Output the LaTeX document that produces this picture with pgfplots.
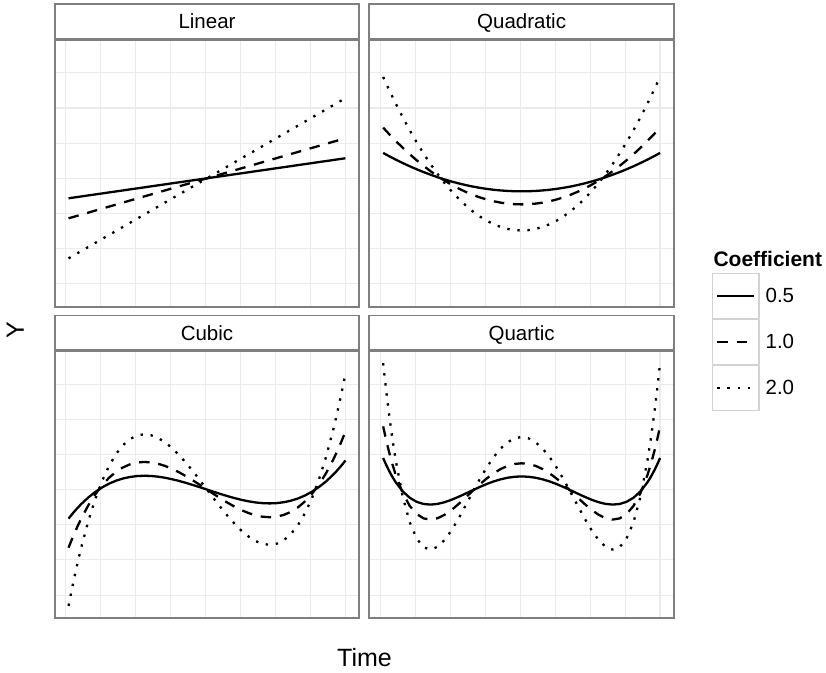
\documentclass[border=0pt]{standalone}
\usepackage{fontspec}
\setmainfont{Liberation Sans}
\usepackage{pgfplots}
\usepackage{pgfplotstable}
\pgfplotsset{compat=1.18}
\definecolor{borderc}{RGB}{127,127,127}
\definecolor{gridc}{RGB}{235,235,235}
\definecolor{keyc}{RGB}{210,210,210}

\pgfplotstableread{
x c05 c10 c20
1 -0.857 -1.715 -3.430
50.5 0 0 0
100 0.857 1.715 3.430
}\linear

\pgfplotstableread{
x c05 c10 c20
1 1.085 2.169 4.339
3 0.955 1.909 3.818
5.5 0.799 1.599 3.198
8 0.653 1.305 2.611
10.5 0.514 1.029 2.057
13 0.384 0.769 1.537
15.5 0.263 0.525 1.051
18 0.150 0.299 0.598
20.5 0.045 0.089 0.179
23 -0.052 -0.103 -0.207
25.5 -0.140 -0.280 -0.559
28 -0.219 -0.439 -0.878
30.5 -0.291 -0.581 -1.163
33 -0.354 -0.707 -1.414
35.5 -0.408 -0.816 -1.632
38 -0.454 -0.908 -1.817
40.5 -0.492 -0.984 -1.968
43 -0.521 -1.043 -2.085
45.5 -0.542 -1.085 -2.169
48 -0.555 -1.110 -2.219
50.5 -0.559 -1.118 -2.236
53 -0.555 -1.110 -2.219
55.5 -0.542 -1.085 -2.169
58 -0.521 -1.043 -2.085
60.5 -0.492 -0.984 -1.968
63 -0.454 -0.908 -1.817
65.5 -0.408 -0.816 -1.632
68 -0.354 -0.707 -1.414
70.5 -0.291 -0.581 -1.163
73 -0.219 -0.439 -0.878
75.5 -0.140 -0.280 -0.559
78 -0.052 -0.103 -0.207
80.5 0.045 0.089 0.179
83 0.150 0.299 0.598
85.5 0.263 0.525 1.051
88 0.384 0.769 1.537
90.5 0.514 1.029 2.057
93 0.653 1.305 2.611
95.5 0.799 1.599 3.198
98 0.955 1.909 3.818
100 1.085 2.169 4.339
}\quadratic

\pgfplotstableread{
x c05 c10 c20
1 -1.245 -2.489 -4.978
2 -1.094 -2.187 -4.374
3 -0.950 -1.901 -3.802
4.25 -0.782 -1.564 -3.128
5.5 -0.625 -1.250 -2.500
8 -0.344 -0.689 -1.377
10.5 -0.106 -0.212 -0.423
13 0.093 0.186 0.372
15.5 0.255 0.509 1.019
18 0.382 0.763 1.526
20.5 0.476 0.952 1.905
23 0.541 1.082 2.165
25.5 0.579 1.158 2.315
28 0.592 1.183 2.366
30.5 0.582 1.164 2.328
33 0.553 1.105 2.211
35.5 0.506 1.012 2.024
38 0.444 0.889 1.778
40.5 0.370 0.741 1.482
43 0.286 0.573 1.146
45.5 0.195 0.390 0.781
48 0.099 0.198 0.395
50.5 0 0 0
53 -0.099 -0.198 -0.395
55.5 -0.195 -0.390 -0.781
58 -0.286 -0.573 -1.146
60.5 -0.370 -0.741 -1.482
63 -0.444 -0.889 -1.778
65.5 -0.506 -1.012 -2.024
68 -0.553 -1.105 -2.211
70.5 -0.582 -1.164 -2.328
73 -0.592 -1.183 -2.366
75.5 -0.579 -1.158 -2.315
78 -0.541 -1.082 -2.165
80.5 -0.476 -0.952 -1.905
83 -0.382 -0.763 -1.526
85.5 -0.255 -0.509 -1.019
88 -0.093 -0.186 -0.372
90.5 0.106 0.212 0.423
93 0.344 0.689 1.377
95.5 0.625 1.250 2.500
96.75 0.782 1.564 3.128
98 0.950 1.901 3.802
99 1.094 2.187 4.374
100 1.245 2.489 4.978
}\cubic

\pgfplotstableread{
x c05 c10 c20
1 1.353 2.707 5.413
2 1.080 2.159 4.319
3 0.831 1.662 3.325
4.25 0.554 1.108 2.216
5.5 0.312 0.624 1.248
8 -0.076 -0.152 -0.304
10.5 -0.350 -0.699 -1.398
13 -0.525 -1.050 -2.101
15.5 -0.618 -1.236 -2.472
18 -0.643 -1.285 -2.570
20.5 -0.612 -1.224 -2.448
23 -0.539 -1.077 -2.154
25.5 -0.434 -0.867 -1.734
28 -0.307 -0.615 -1.230
30.5 -0.170 -0.339 -0.678
33 -0.028 -0.056 -0.112
35.5 0.109 0.219 0.438
38 0.237 0.473 0.946
40.5 0.348 0.696 1.392
43 0.439 0.879 1.757
45.5 0.507 1.014 2.028
48 0.548 1.097 2.194
50.5 0.563 1.125 2.250
53 0.548 1.097 2.194
55.5 0.507 1.014 2.028
58 0.439 0.879 1.757
60.5 0.348 0.696 1.392
63 0.237 0.473 0.946
65.5 0.109 0.219 0.438
68 -0.028 -0.056 -0.112
70.5 -0.170 -0.339 -0.678
73 -0.307 -0.615 -1.230
75.5 -0.434 -0.867 -1.734
78 -0.539 -1.077 -2.154
80.5 -0.612 -1.224 -2.448
83 -0.643 -1.285 -2.570
85.5 -0.618 -1.236 -2.472
88 -0.525 -1.050 -2.101
90.5 -0.350 -0.699 -1.398
93 -0.076 -0.152 -0.304
95.5 0.312 0.624 1.248
96.75 0.554 1.108 2.216
98 0.831 1.662 3.325
99 1.080 2.159 4.319
100 1.353 2.707 5.413
}\quartic

\pgfplotsset{
  panel/.style={
    scale only axis, width=304.6pt, height=267pt,
    xmin=-3.95, xmax=104.95, ymin=-5.498, ymax=5.933,
    xtick={0,25,50,75,100}, minor xtick={12.5,37.5,62.5,87.5},
    ytick={-3.01,0,3.01}, minor ytick={-4.515,-1.505,1.505,4.515},
    xticklabels={}, yticklabels={},
    major tick length=0pt, minor tick length=0pt, tick style={draw=none},
    grid=both,
    major grid style={draw=gridc, line width=1.2pt},
    minor grid style={draw=gridc, line width=0.9pt},
    axis line style={draw=borderc, line width=1.9pt},
    every axis title/.style={at={(0.5,1)}, anchor=south, draw=borderc,
      line width=1.9pt, fill=white, minimum width=304.6pt, minimum height=34.5pt,
      inner sep=0pt, text height=14.7pt, text depth=0pt,
      font=\fontsize{20.5}{24}\selectfont},
  },
  s05/.style={black, line width=2.3pt, solid, line join=round},
  s10/.style={black, line width=2.3pt, dash pattern=on 10.5pt off 8.8pt, line join=round},
  s20/.style={black, line width=2.3pt, dash pattern=on 2.4pt off 7.7pt, line join=round},
}

\begin{document}
\begin{tikzpicture}
\path[use as bounding box] (0pt,0pt) rectangle (826pt,672pt);

\begin{axis}[panel, at={(54.7pt,365.3pt)}, anchor=south west, title={Linear}]
\addplot[s05] table[x=x,y=c05]{\linear};
\addplot[s10] table[x=x,y=c10]{\linear};
\addplot[s20] table[x=x,y=c20]{\linear};
\end{axis}

\begin{axis}[panel, at={(369.3pt,365.3pt)}, anchor=south west, title={Quadratic},
  legend style={at={(axis description cs:1.1241,0.1251)}, anchor=north west,
    draw=none, fill=none, inner sep=0pt, outer sep=0pt, row sep=0pt,
    font=\fontsize{20.5}{24}\selectfont, nodes={inner sep=0pt},
    /tikz/every odd column/.append style={column sep=6pt}},
  legend cell align=left,
  legend image code/.code={
    \draw[solid, draw=keyc, line width=1.2pt] (0pt,-22.4pt) rectangle (46.7pt,22.4pt);
    \draw[#1] (5pt,0pt) -- (41.7pt,0pt);}]
\addplot[s05] table[x=x,y=c05]{\quadratic};
\addlegendentry{0.5}
\addplot[s10] table[x=x,y=c10]{\quadratic};
\addlegendentry{1.0}
\addplot[s20] table[x=x,y=c20]{\quadratic};
\addlegendentry{2.0}
\end{axis}

\begin{axis}[panel, at={(54.7pt,54pt)}, anchor=south west, title={Cubic}]
\addplot[s05] table[x=x,y=c05]{\cubic};
\addplot[s10] table[x=x,y=c10]{\cubic};
\addplot[s20] table[x=x,y=c20]{\cubic};
\end{axis}

\begin{axis}[panel, at={(369.3pt,54pt)}, anchor=south west, title={Quartic}]
\addplot[s05] table[x=x,y=c05]{\quartic};
\addplot[s10] table[x=x,y=c10]{\quartic};
\addplot[s20] table[x=x,y=c20]{\quartic};
\end{axis}

\node[anchor=base west, inner sep=0pt, font=\bfseries\fontsize{21}{25}\selectfont] at (713.3pt,405.3pt) {Coefficient};
\node[rotate=90, inner sep=0pt, font=\fontsize{25}{30}\selectfont] at (15.3pt,342pt) {Y};
\node[anchor=base, inner sep=0pt, font=\fontsize{25}{30}\selectfont] at (364.5pt,5.3pt) {Time};
\end{tikzpicture}
\end{document}
